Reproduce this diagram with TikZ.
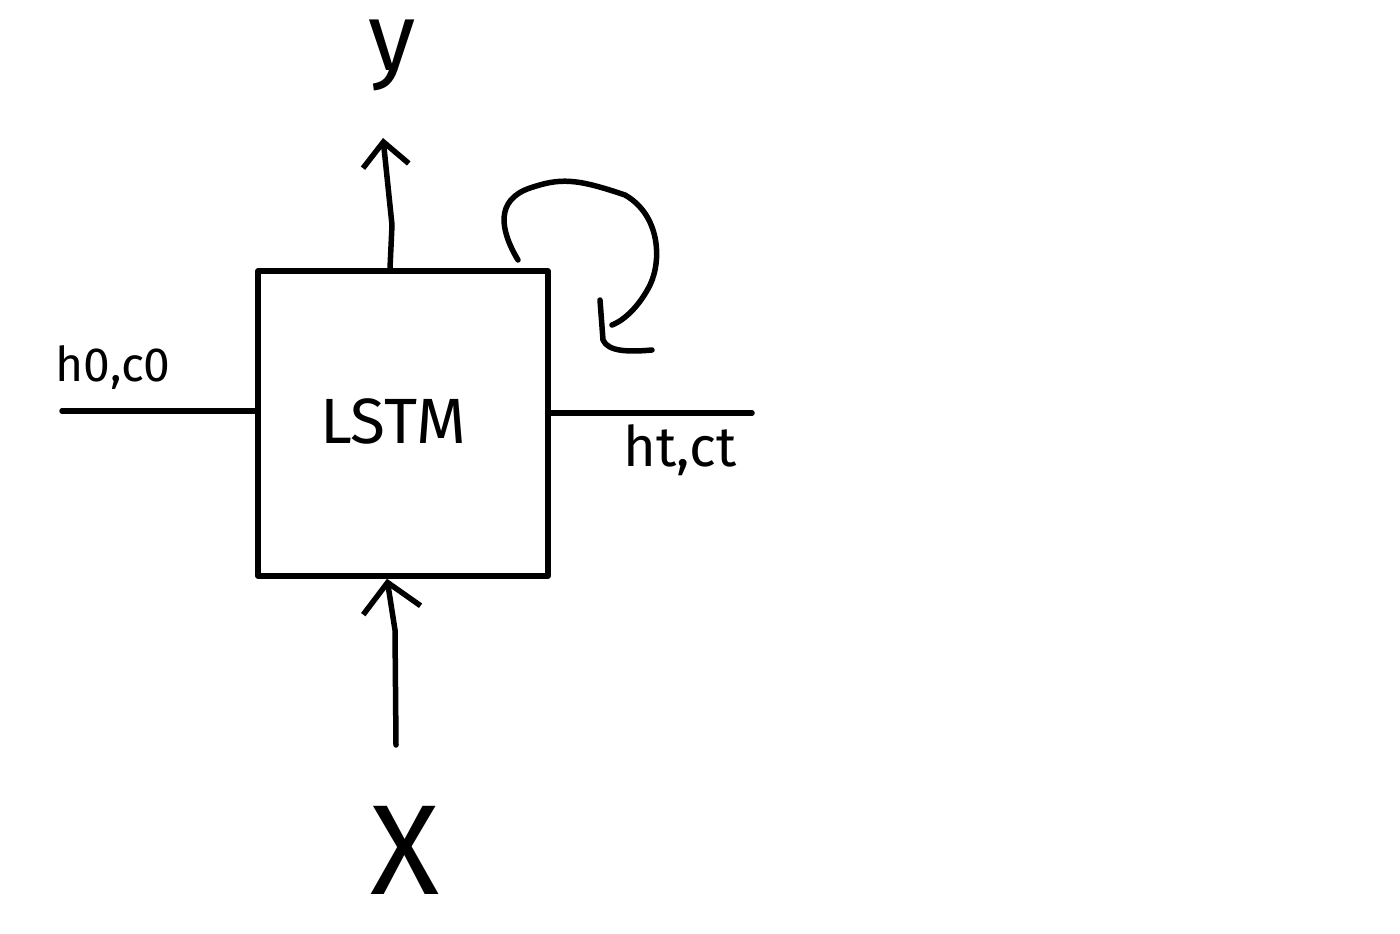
\documentclass[tikz,border=0pt]{standalone}
\usepackage{fontspec}
\setmainfont{Fira Sans}
\usetikzlibrary{arrows.meta}
\begin{document}
\begin{tikzpicture}[x=1pt,y=-1pt,
  stroke/.style={line width=5.5pt,line cap=round,line join=round,black},
  barbtop/.style={-{Straight Barb[length=24pt,width=46pt,line width=5.5pt]}},
  barbbot/.style={-{Straight Barb[length=28pt,width=58pt,line width=5.5pt]}},
  lbl/.style={inner sep=0pt,font=\fontsize{48}{48}\selectfont}]
\useasboundingbox (0,0) rectangle (1400,934);
\fill[white] (0,0) rectangle (1400,934);
% box
\node[stroke,draw,minimum width=290pt,minimum height=305pt,inner sep=0pt] (lstm) at (403,423.5) {};
\node[inner sep=0pt,font=\fontsize{64}{64}\selectfont] (lstmtext) at (393,421) {LSTM};
% output
\coordinate (ytip) at (383,138);
\draw[stroke,barbtop] (lstm.north -| 390,0) -- (392,225) -- (ytip);
\node[inner sep=0pt,font=\fontsize{96}{96}\selectfont] (y) at (392,55) {y};
% input
\coordinate (xstart) at (396,745);
\draw[stroke,barbbot] (xstart) -- (395,630) -- (lstm.south -| 387,0);
\node[inner sep=0pt,font=\fontsize{128}{128}\selectfont] (x) at (405,850) {X};
% left input state
\coordinate (lstart) at (62,411);
\draw[stroke] (lstart) -- (lstm.west |- 0,411);
\node[lbl] (h0) at (113,368) {h0,c0};
% right output state
\coordinate (rend) at (752,413);
\draw[stroke] (lstm.east |- 0,413) -- (rend);
\node[inner sep=0pt,font=\fontsize{56}{56}\selectfont] (ht) at (680,450) {ht,ct};
% recurrent loop
\coordinate (lstart2) at (518,260);
\draw[stroke] (lstart2) .. controls (500,230) and (495,200) .. (530,188)
   .. controls (560,178) and (575,178) .. (625,195)
   .. controls (660,215) and (662,260) .. (650,285)
   .. controls (640,305) and (625,320) .. (612,325);
\draw[stroke] (600,300) -- (603,340) .. controls (608,352) and (630,352) .. (652,350);
\end{tikzpicture}
\end{document}
